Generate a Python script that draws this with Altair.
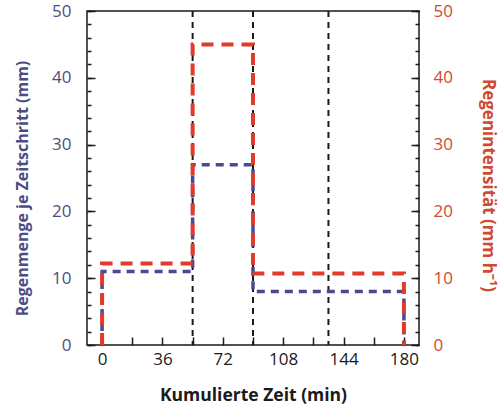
import altair as alt
import pandas as pd

# ---- data ----
bounds = [0, 54, 90, 135, 180]          # time-step boundaries (min)
amount = [11, 27, 8, 8]                 # rain per time step (mm)
intensity = [12.2, 45, 10.7, 10.7]      # rain intensity (mm h-1)
dividers = [54, 90, 135]                # black dashed separators
x_label_values = [0, 36, 72, 108, 144, 180]
x_tick_values = [0, 18, 36, 54, 72, 90, 108, 126, 144, 162, 180]
y_major = [0, 10, 20, 30, 40, 50]
y_minor = list(range(0, 51, 2))

W, H = 332, 334
BLUE_LINE = "#4a4a8e"
RED_LINE = "#e03b2b"
BLUE_TXT = "#4d4d86"
RED_TXT = "#cf4a31"
FONT = "Open Sans"


def step_path(vals):
    xs, ys = [bounds[0]], [0]
    for i, v in enumerate(vals):
        xs += [bounds[i], bounds[i + 1]]
        ys += [v, v]
    xs.append(bounds[-1])
    ys.append(0)
    return pd.DataFrame({"t": xs, "v": ys, "o": list(range(len(xs)))})


xscale = alt.Scale(domain=[-9, 189], nice=False, zero=False)
yscale = alt.Scale(domain=[0, 50], nice=False)

blue_df = step_path(amount)
red_df = step_path(intensity)
div_df = pd.DataFrame({"t": dividers})
ymaj_df = pd.DataFrame({"v": y_major})

rules = alt.Chart(div_df).mark_rule(color="#1a1a1a", strokeDash=[6, 5], strokeWidth=2).encode(
    x=alt.X("t:Q", scale=xscale, axis=None)
)

blue = alt.Chart(blue_df).mark_line(color=BLUE_LINE, strokeWidth=3.5, strokeDash=[8, 6]).encode(
    x=alt.X("t:Q", scale=xscale, axis=alt.Axis(
        orient="bottom", values=x_label_values, ticks=False, domain=False, grid=False,
        labelColor="#1a1a1a", labelFontSize=17, labelPadding=6,
        title="Kumulierte Zeit (min)", titleFontSize=17.5, titleFontWeight="bold",
        titleColor="#1a1a1a", titlePadding=19)),
    y=alt.Y("v:Q", scale=yscale, axis=alt.Axis(
        orient="left", values=y_major, ticks=False, domain=False, grid=False,
        labelColor=BLUE_TXT, labelFontSize=17, labelPadding=16,
        title="Regenmenge je Zeitschritt (mm)", titleColor=BLUE_TXT, titleFontSize=16,
        titleFontWeight="bold", titlePadding=21, titleY=177)),
    order="o:Q",
)

red = alt.Chart(red_df).mark_line(color=RED_LINE, strokeWidth=4, strokeDash=[12, 8]).encode(
    x=alt.X("t:Q", scale=xscale, axis=None),
    y=alt.Y("v:Q", scale=yscale, axis=alt.Axis(
        orient="right", values=y_major, ticks=False, domain=False, grid=False,
        labelColor=RED_TXT, labelFontSize=17, labelPadding=14,
        title="Regenintensität (mm h⁻¹)", titleColor=RED_TXT, titleFontSize=17,
        titleFontWeight="bold", titlePadding=26, titleY=174)),
    order="o:Q",
)


def tick_layer(orient, values, size, with_x=False):
    enc = dict(
        y=alt.Y("v:Q", scale=yscale, axis=alt.Axis(
            orient=orient, offset=-W, values=values, tickSize=size, tickWidth=1.5,
            tickColor="#1a1a1a", labels=False, domain=False, grid=False, title=None)),
    )
    if with_x:
        enc["x"] = alt.X("v:Q", scale=xscale, axis=alt.Axis(
            orient="top", offset=-H, values=x_tick_values, tickSize=8, tickWidth=1.5,
            tickColor="#1a1a1a", labels=False, domain=False, grid=False, title=None))
    return alt.Chart(ymaj_df).mark_point(opacity=0).encode(**enc)


chart = alt.layer(
    rules, blue, red,
    tick_layer("right", y_major, 8, with_x=True),
    tick_layer("right", y_minor, 4),
    tick_layer("left", y_major, 8),
    tick_layer("left", y_minor, 4),
).resolve_scale(x="independent", y="independent").resolve_axis(
    x="independent", y="independent"
).properties(
    width=W, height=H,
    autosize=alt.AutoSizeParams(type="none"),
    padding={"left": 87, "top": 11, "right": 84, "bottom": 61},
).configure_view(stroke="#1a1a1a", strokeWidth=1.5).configure_axis(
    labelFont=FONT, titleFont=FONT
)

chart.save("out.html", embed_options={"renderer": "svg", "actions": False})
